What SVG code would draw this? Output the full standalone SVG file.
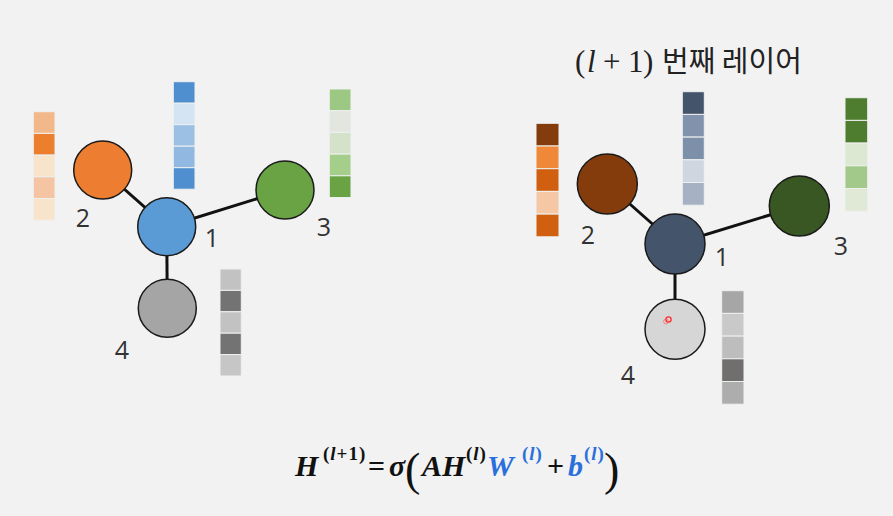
<svg xmlns="http://www.w3.org/2000/svg" width="893" height="516" viewBox="0 0 893 516">
  <style>
    .edge { stroke: #111; stroke-width: 3; }
    .node { stroke: #1a1a1a; stroke-width: 1.5; }
    .lbl { font-family: "Open Sans", "Noto Sans", sans-serif; font-size: 25px; fill: #333; }
    .cell { stroke: #eef0f0; stroke-width: 1; }
    .math { font-family: "Liberation Serif", serif; font-weight: bold; font-style: italic; fill: #111; }
    .up { font-family: "Liberation Serif", serif; font-weight: bold; font-size: 19px; letter-spacing: 1px; }
    .blue { fill: #2a6fdc; }
  </style>
  <rect width="893" height="516" fill="#f2f2f2"/>

  <!-- Left graph: layer l -->
  <g id="connectors-left">
    <line class="edge" x1="166.7" y1="226.7" x2="102.7" y2="170"/>
    <line class="edge" x1="166.7" y1="226.7" x2="285" y2="190"/>
    <line class="edge" x1="166.7" y1="226.7" x2="167.3" y2="308.3"/>
  </g>
  <g id="L-node2"><circle class="node" cx="102.7" cy="170" r="29" fill="#ed7d31"/><text class="lbl" x="83" y="227" text-anchor="middle">2</text></g>
  <g id="L-node1"><circle class="node" cx="166.7" cy="226.7" r="29" fill="#5b9bd5"/><text class="lbl" x="212" y="247" text-anchor="middle">1</text></g>
  <g id="L-node3"><circle class="node" cx="285" cy="190" r="29" fill="#6aa343"/><text class="lbl" x="324" y="236" text-anchor="middle">3</text></g>
  <g id="L-node4"><circle class="node" cx="167.3" cy="308.3" r="29" fill="#a5a5a5"/><text class="lbl" x="122" y="359" text-anchor="middle">4</text></g>

  <g id="L-vec2">
    <rect class="cell" x="33.3" y="111.7" width="21.7" height="21.7" fill="#f2b88a"/>
    <rect class="cell" x="33.3" y="133.4" width="21.7" height="21.7" fill="#ec7f2e"/>
    <rect class="cell" x="33.3" y="155.1" width="21.7" height="21.7" fill="#f8e3cb"/>
    <rect class="cell" x="33.3" y="176.8" width="21.7" height="21.7" fill="#f4c4a3"/>
    <rect class="cell" x="33.3" y="198.5" width="21.7" height="21.7" fill="#f8e3cb"/>
  </g>
  <g id="L-vec1">
    <rect class="cell" x="173.3" y="81.7" width="21.7" height="21.5" fill="#4f8fcf"/>
    <rect class="cell" x="173.3" y="103.2" width="21.7" height="21.5" fill="#d5e4f2"/>
    <rect class="cell" x="173.3" y="124.7" width="21.7" height="21.5" fill="#9cc0e4"/>
    <rect class="cell" x="173.3" y="146.2" width="21.7" height="21.5" fill="#90b8e0"/>
    <rect class="cell" x="173.3" y="167.7" width="21.7" height="21.5" fill="#4f8fcf"/>
  </g>
  <g id="L-vec3">
    <rect class="cell" x="329.3" y="89" width="21.7" height="21.7" fill="#9dc883"/>
    <rect class="cell" x="329.3" y="110.7" width="21.7" height="21.7" fill="#e2e6de"/>
    <rect class="cell" x="329.3" y="132.4" width="21.7" height="21.7" fill="#d3e2c8"/>
    <rect class="cell" x="329.3" y="154.1" width="21.7" height="21.7" fill="#a6ce8b"/>
    <rect class="cell" x="329.3" y="175.8" width="21.7" height="21.7" fill="#6aa343"/>
  </g>
  <g id="L-vec4">
    <rect class="cell" x="220" y="269" width="21.3" height="21.4" fill="#c2c2c2"/>
    <rect class="cell" x="220" y="290.4" width="21.3" height="21.4" fill="#737373"/>
    <rect class="cell" x="220" y="311.8" width="21.3" height="21.4" fill="#c2c2c2"/>
    <rect class="cell" x="220" y="333.2" width="21.3" height="21.4" fill="#737373"/>
    <rect class="cell" x="220" y="354.6" width="21.3" height="21.4" fill="#c6c6c6"/>
  </g>

  <!-- Right graph: layer l+1 -->
  <g id="title">
    <text y="72" font-size="29" fill="#222" font-family="'Noto Sans CJK KR', sans-serif"><tspan x="575" font-family="'Liberation Serif', serif" font-size="31">(</tspan><tspan x="587" font-family="'Liberation Serif', serif" font-style="italic" font-size="31">l</tspan><tspan x="603" font-family="'Liberation Serif', serif" font-size="31">+</tspan><tspan x="628" font-family="'Liberation Serif', serif" font-size="31">1</tspan><tspan x="643" font-family="'Liberation Serif', serif" font-size="31">)</tspan><tspan x="662">번째 레이어</tspan></text>
  </g>
  <g id="connectors-right">
    <line class="edge" x1="675" y1="244" x2="607.3" y2="184"/>
    <line class="edge" x1="675" y1="244" x2="799.3" y2="206"/>
    <line class="edge" x1="675" y1="244" x2="675" y2="329.3"/>
  </g>
  <g id="R-node2"><circle class="node" cx="607.3" cy="184" r="30" fill="#843c0c"/><text class="lbl" x="588" y="244" text-anchor="middle">2</text></g>
  <g id="R-node1"><circle class="node" cx="675" cy="244" r="30" fill="#44546a"/><text class="lbl" x="722" y="266" text-anchor="middle">1</text></g>
  <g id="R-node3"><circle class="node" cx="799.3" cy="206" r="30" fill="#385723"/><text class="lbl" x="841" y="255" text-anchor="middle">3</text></g>
  <g id="R-node4"><circle class="node" cx="675" cy="329.3" r="30" fill="#d6d6d6"/><text class="lbl" x="628" y="384" text-anchor="middle">4</text>
    <circle cx="668.5" cy="319.5" r="2.6" fill="none" stroke="#ff2a2a" stroke-width="1.3"/>
    <circle cx="666" cy="321.5" r="2.4" fill="none" stroke="#ff5a5a" stroke-width="1" opacity="0.7"/>
  </g>

  <g id="R-vec2">
    <rect class="cell" x="536" y="123.3" width="23" height="22.7" fill="#843c0c"/>
    <rect class="cell" x="536" y="146" width="23" height="22.7" fill="#f0883a"/>
    <rect class="cell" x="536" y="168.7" width="23" height="22.7" fill="#d0600f"/>
    <rect class="cell" x="536" y="191.4" width="23" height="22.7" fill="#f5c7a4"/>
    <rect class="cell" x="536" y="214.1" width="23" height="22.7" fill="#d0600f"/>
  </g>
  <g id="R-vec1">
    <rect class="cell" x="682.3" y="91.7" width="22" height="22.7" fill="#44546a"/>
    <rect class="cell" x="682.3" y="114.4" width="22" height="22.7" fill="#8193ac"/>
    <rect class="cell" x="682.3" y="137.1" width="22" height="22.7" fill="#7d90aa"/>
    <rect class="cell" x="682.3" y="159.8" width="22" height="22.7" fill="#cfd6e0"/>
    <rect class="cell" x="682.3" y="182.5" width="22" height="22.7" fill="#a6b2c4"/>
  </g>
  <g id="R-vec3">
    <rect class="cell" x="845" y="97.7" width="22.7" height="22.7" fill="#4f7d30"/>
    <rect class="cell" x="845" y="120.4" width="22.7" height="22.7" fill="#4f7d30"/>
    <rect class="cell" x="845" y="143.1" width="22.7" height="22.7" fill="#dde8d3"/>
    <rect class="cell" x="845" y="165.8" width="22.7" height="22.7" fill="#a3c98a"/>
    <rect class="cell" x="845" y="188.5" width="22.7" height="22.7" fill="#dfe9d6"/>
  </g>
  <g id="R-vec4">
    <rect class="cell" x="721.7" y="290.7" width="22.3" height="22.7" fill="#a6a6a6"/>
    <rect class="cell" x="721.7" y="313.4" width="22.3" height="22.7" fill="#c9c9c9"/>
    <rect class="cell" x="721.7" y="336.1" width="22.3" height="22.7" fill="#bdbdbd"/>
    <rect class="cell" x="721.7" y="358.8" width="22.3" height="22.7" fill="#716e6e"/>
    <rect class="cell" x="721.7" y="381.5" width="22.3" height="22.7" fill="#adadad"/>
  </g>

  <!-- Formula -->
  <g id="formula">
    <text class="math" font-size="30" y="476"><tspan x="295">H</tspan><tspan x="323" y="460" class="up" font-style="normal">(<tspan font-style="italic">l</tspan>+1)</tspan><tspan x="368" y="476" font-style="normal">=</tspan><tspan x="389">σ</tspan><tspan x="405" y="485" font-size="46" font-weight="normal" font-style="normal">(</tspan><tspan x="422" y="476">AH</tspan><tspan x="466" y="460" class="up" font-style="normal">(<tspan font-style="italic">l</tspan>)</tspan><tspan x="487" y="476" class="blue">W</tspan><tspan x="522" y="460" class="up blue" font-style="normal">(<tspan font-style="italic">l</tspan>)</tspan><tspan x="547" y="476" font-style="normal">+</tspan><tspan x="568" class="blue">b</tspan><tspan x="584" y="460" class="up blue" font-style="normal">(<tspan font-style="italic">l</tspan>)</tspan><tspan x="604" y="485" font-size="46" font-weight="normal" font-style="normal">)</tspan></text>
  </g>
</svg>
